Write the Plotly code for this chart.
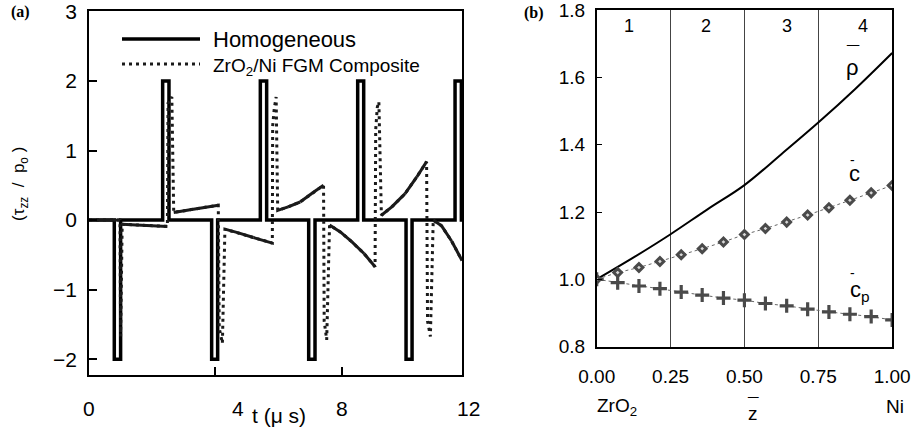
import plotly.graph_objects as go

W, H = 916, 429

# ---------------- Panel (a) data ----------------
hom_t = [0, 0.80, 0.80, 1.00, 1.00, 2.33, 2.33, 2.53, 2.53, 3.88, 3.88, 4.07, 4.07,
         5.42, 5.42, 5.62, 5.62, 6.95, 6.95, 7.15, 7.15, 8.50, 8.50, 8.69, 8.69,
         10.03, 10.03, 10.22, 10.22, 11.58, 11.58, 11.78, 11.78, 11.9]
hom_v = [0, 0, -2, -2, 0, 0, 2, 2, 0, 0, -2, -2, 0, 0, 2, 2, 0, 0, -2, -2, 0,
         0, 2, 2, 0, 0, -2, -2, 0, 0, 2, 2, 0, 0]

fgm_t = [0, 0.98, 1.00, 1.05, 1.5, 2.0, 2.48, 2.50, 2.62, 2.68, 3.2, 3.7, 4.09,
         4.12, 4.22, 4.30, 4.7, 5.2, 5.80, 5.81, 5.86, 5.92, 5.97, 6.3, 6.68, 7.1,
         7.42, 7.44, 7.52, 7.61, 7.95, 8.31, 8.7, 9.05, 9.07, 9.12, 9.17, 9.25,
         9.58, 10.0, 10.37, 10.68, 10.71, 10.80, 10.89, 11.15, 11.47, 11.8]
fgm_v = [0, 0, -1.67, -0.06, -0.07, -0.08, -0.09, 1.68, 1.77, 0.11, 0.15, 0.185,
         0.215, -1.55, -1.77, -0.13, -0.18, -0.25, -0.33, 1.35, 1.60, 1.77, 0.14,
         0.19, 0.26, 0.40, 0.50, -1.45, -1.72, -0.07, -0.17, -0.31, -0.48, -0.67,
         1.30, 1.62, 1.70, 0.07, 0.19, 0.38, 0.62, 0.84, -1.45, -1.67, 0.0, -0.08,
         -0.30, -0.58]

a_xticks = [0, 4, 8, 12]
a_xticklabels = ["0", "4", "8", "12"]
a_yticks = [-2, -1, 0, 1, 2, 3]

# ---------------- Panel (b) data ----------------
z_rho = [0, 0.125, 0.25, 0.375, 0.5, 0.625, 0.75, 0.875, 1.0]
rho = [1.0, 1.065, 1.134, 1.208, 1.28, 1.372, 1.466, 1.566, 1.673]

z_pts = [0, 0.071, 0.143, 0.214, 0.286, 0.357, 0.429, 0.5, 0.571, 0.643, 0.714,
         0.786, 0.857, 0.929, 1.0]
c_bar = [1.0, 1.02, 1.035, 1.053, 1.073, 1.091, 1.111, 1.133, 1.151, 1.170,
         1.191, 1.213, 1.235, 1.257, 1.279]
cp_bar = [1.0, 0.990, 0.980, 0.972, 0.962, 0.953, 0.944, 0.938, 0.928, 0.921,
          0.911, 0.903, 0.896, 0.889, 0.879]

b_xticks = [0, 0.25, 0.5, 0.75, 1.0]
b_xticklabels = ["0.00", "0.25", "0.50", "0.75", "1.00"]
b_yticks = [0.8, 1.0, 1.2, 1.4, 1.6, 1.8]
region_x = [0.11, 0.37, 0.645, 0.9]
region_labels = ["1", "2", "3", "4"]

FONT = "Liberation Sans, Arial, sans-serif"
SERIF = "Liberation Serif, Times New Roman, serif"

# panel geometry (pixels)
A_L, A_R, A_T, A_B = 89, 462, 11, 375
B_L, B_R, B_T, B_B = 596.7, 892.3, 10, 346.7
A_XMAX = 11.8

# solid overlay for the densely sampled (slowly varying) parts of the FGM curve
sol_t, sol_v = [], []
for i in range(len(fgm_t) - 1):
    dt = fgm_t[i + 1] - fgm_t[i]
    dv = fgm_v[i + 1] - fgm_v[i]
    if dt >= 0.2 and abs(dv) / dt < 1.5:
        sol_t += [fgm_t[i], fgm_t[i + 1], None]
        sol_v += [fgm_v[i], fgm_v[i + 1], None]

fig = go.Figure()
fig.add_trace(go.Scatter(x=hom_t, y=hom_v, mode="lines", name="Homogeneous",
                         line=dict(color="black", width=3.5), xaxis="x", yaxis="y",
                         showlegend=False))
fig.add_trace(go.Scatter(x=fgm_t, y=fgm_v, mode="lines", name="ZrO2/Ni FGM Composite",
                         line=dict(color="#1a1a1a", width=3, dash="3px,4px"),
                         xaxis="x", yaxis="y", showlegend=False))
fig.add_trace(go.Scatter(x=sol_t, y=sol_v, mode="lines", line=dict(color="#1a1a1a", width=3),
                         xaxis="x", yaxis="y", showlegend=False, hoverinfo="skip"))

fig.add_trace(go.Scatter(x=z_rho, y=rho, mode="lines", line=dict(color="black", width=2, shape="spline"),
                         xaxis="x2", yaxis="y2", showlegend=False, name="rho"))
fig.add_trace(go.Scatter(x=z_pts, y=cp_bar, mode="lines+markers",
                         line=dict(color="#666", width=1, dash="dot"),
                         marker=dict(symbol="cross-thin", size=10, color="#4a4a4a",
                                     line=dict(color="#4a4a4a", width=3.2)),
                         xaxis="x2", yaxis="y2", showlegend=False, name="cp"))
fig.add_trace(go.Scatter(x=z_pts, y=c_bar, mode="lines+markers",
                         line=dict(color="#666", width=1, dash="dot"),
                         marker=dict(symbol="diamond", size=6, color="#d8d8d8",
                                     line=dict(color="#4a4a4a", width=3)),
                         xaxis="x2", yaxis="y2", showlegend=False, name="c"))

def px(x):
    return x / W

def py(y):
    return 1 - y / H

ann = []

def add(x, y, text, size, xref="paper", yref="paper", xanchor="center", family=FONT, **kw):
    ann.append(dict(x=x, y=y, xref=xref, yref=yref, text=text, showarrow=False,
                    xanchor=xanchor, yanchor="middle",
                    font=dict(size=size, family=family, color="black"), **kw))

# panel (a) x tick labels (placed in paper units derived from the axis scale)
for v, lab in zip(a_xticks, a_xticklabels):
    xpix = A_L + (A_R - A_L) * v / A_XMAX
    add(px(xpix), py(408), lab, 21, xshift=23 if lab == "4" else 0)
add(px(279), py(415), "t (μ s)", 21)
add(px(20), py(184), "(τ<sub>zz</sub>  /  p<sub>o</sub> )", 17, textangle=-90)
# legend (a)
add(px(211), py(39), "Homogeneous", 22, xanchor="left")
add(px(211), py(67), "ZrO<sub>2</sub>/Ni FGM Composite", 19, xanchor="left")
add(px(20), py(12), "<b>(a)</b>", 16, family=SERIF)
add(px(534), py(13), "<b>(b)</b>", 16, family=SERIF)
# panel (b)
for v, lab in zip(region_x, region_labels):
    add(v, py(26), lab, 18, xref="x2")
add(0.068, py(407), "ZrO<sub>2</sub>", 19, xref="x2")
add(0.529, py(413), "z", 19, xref="x2")
add(0.529, py(404), "¯", 19, xref="x2")
add(px(895), py(406), "Ni", 19)
add(px(852), py(67), "ρ", 22)
add(px(853), py(55), "¯", 22)
add(px(854), py(173), "c", 22)
add(px(852), py(160), "-", 14)
add(px(848), py(291), "c<sub>p</sub>", 22, xanchor="left")
add(px(852), py(273), "-", 14)

shapes = [
    dict(type="line", xref="paper", yref="paper", x0=px(122), x1=px(200), y0=py(39), y1=py(39),
         line=dict(color="black", width=3.5)),
    dict(type="line", xref="paper", yref="paper", x0=px(122), x1=px(200), y0=py(64), y1=py(64),
         line=dict(color="#1a1a1a", width=3, dash="3px,4px")),
]

fig.update_layout(
    width=W, height=H, margin=dict(l=0, r=0, t=0, b=0, autoexpand=False),
    paper_bgcolor="white", plot_bgcolor="white",
    font=dict(family=FONT, color="black"),
    annotations=ann, shapes=shapes, showlegend=False,
    xaxis=dict(domain=[px(A_L), px(A_R)], range=[0, A_XMAX], showline=True, mirror=True,
               linecolor="black", linewidth=1.5, ticks="inside", ticklen=8, tickwidth=1.5,
               tickcolor="black", tickvals=[4, 8], showticklabels=False, automargin=False,
               showgrid=False, zeroline=False, anchor="y"),
    yaxis=dict(domain=[py(A_B), py(A_T)], range=[-2.225, 3.004], showline=True, mirror=True,
               linecolor="black", linewidth=1.5, ticks="inside", ticklen=8, tickwidth=1.5,
               tickcolor="black", tickvals=a_yticks, ticklabelstandoff=6, automargin=False,
               ticklabeloverflow="allow",
               tickfont=dict(size=21, family=FONT, color="black"),
               showgrid=False, zeroline=False, anchor="x"),
    xaxis2=dict(domain=[px(B_L), px(B_R)], range=[0, 1.0005], showline=True, mirror=True,
                linecolor="black", linewidth=1.5, ticks="", tickvals=b_xticks,
                ticktext=b_xticklabels, ticklabelstandoff=12, automargin=False,
                ticklabeloverflow="allow",
                tickfont=dict(size=19, family=FONT, color="black"),
                showgrid=True, gridcolor="#444", gridwidth=1.2, zeroline=False, anchor="y2"),
    yaxis2=dict(domain=[py(B_B), py(B_T)], range=[0.7995, 1.8008], showline=True, mirror=True,
                linecolor="black", linewidth=1.5, ticks="inside", ticklen=6, tickwidth=1.2,
                tickcolor="black", tickvals=b_yticks, tickformat=".1f", ticklabelstandoff=6,
                automargin=False, ticklabeloverflow="allow",
                tickfont=dict(size=19, family=FONT, color="black"),
                showgrid=False, zeroline=False, anchor="x2"),
)

fig.write_html("out.html", config={"displayModeBar": False},
               post_script="document.body.style.margin='0';document.body.style.overflow='hidden';")
